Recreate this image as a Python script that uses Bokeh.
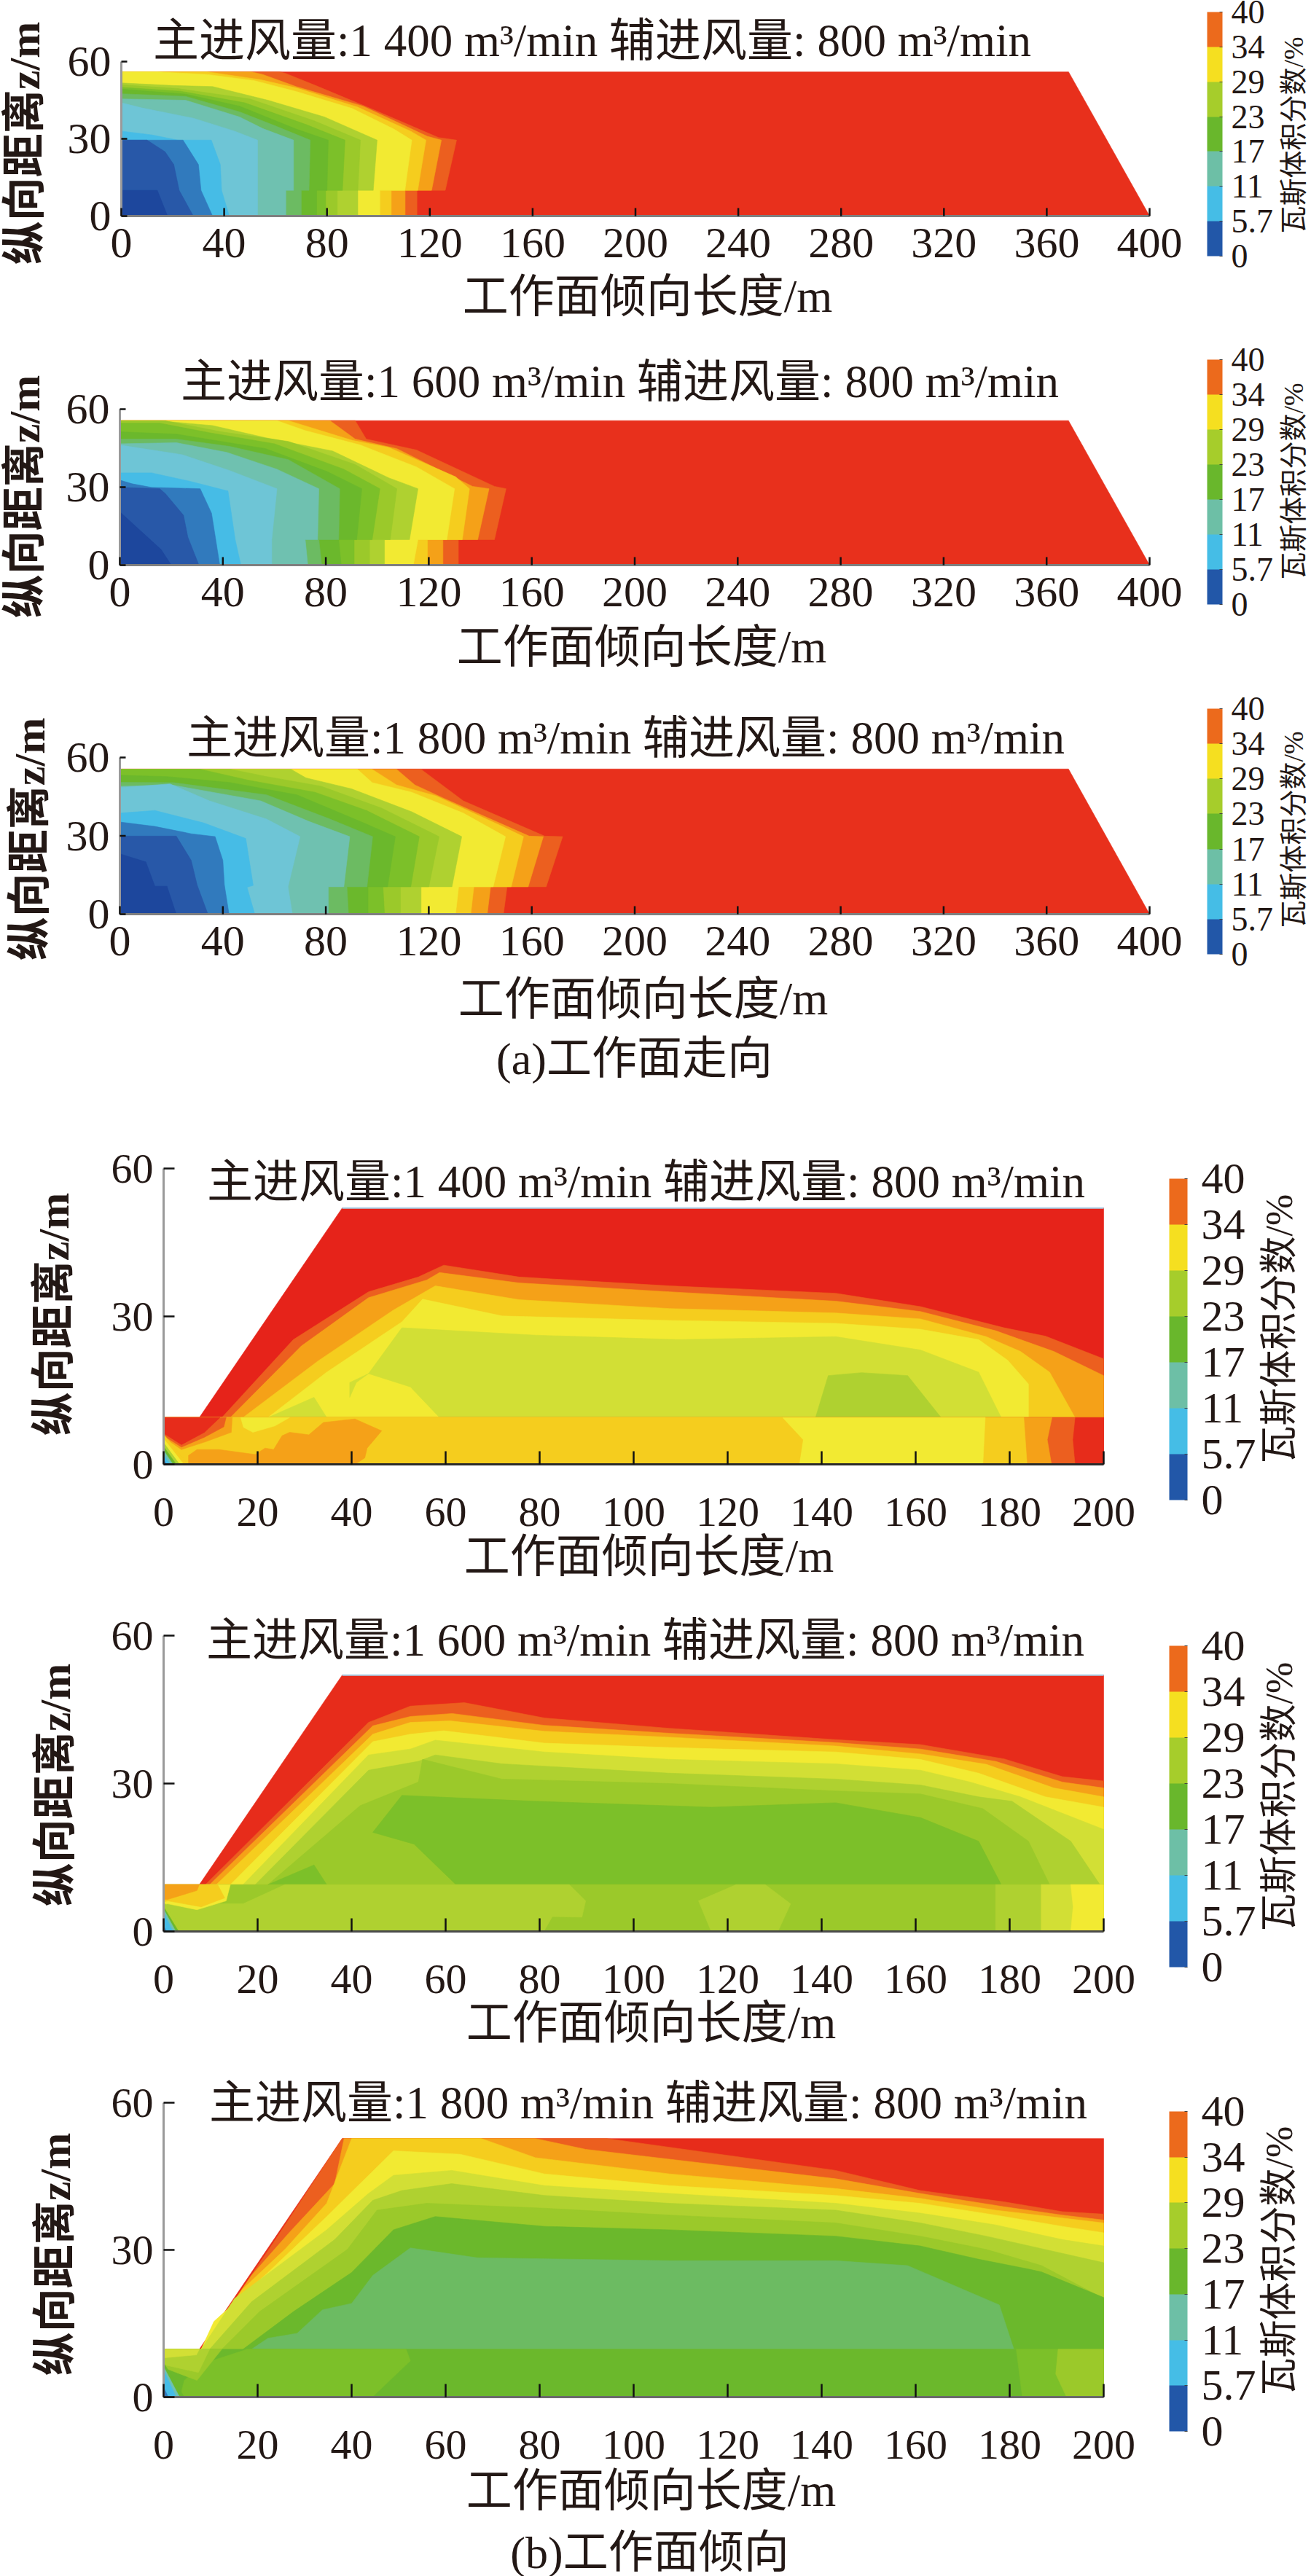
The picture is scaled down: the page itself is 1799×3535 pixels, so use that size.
import math
from bokeh.plotting import figure
from bokeh.layouts import column
from bokeh.models import ColumnDataSource, Label, ColorBar, LinearColorMapper, FixedTicker, Range1d
from bokeh.embed import file_html
from bokeh.resources import INLINE

# ---- colour levels
LEVEL = {0:'#1d479d',1:'#2858a8',2:'#317abd',3:'#46bce6',4:'#6ec5d6',5:'#6fc1b0',6:'#6cbb62',
         7:'#6bb82c',8:'#7cc029',9:'#9bc92a',10:'#afd130',11:'#d2df35',12:'#f2ea32',13:'#f5cd1e',
         14:'#f5a118',15:'#ec5f1f',16:'#e72c1b'}
BAR_COLORS = ['#2257a8','#45bde6','#6dbfa6','#69b72c','#a6cd2b','#f5df20','#ec6a1c']
BAR_LABELS = ['0','5.7','11','17','23','29','34','40']
XT_A = [0,40,80,120,160,200,240,280,320,360,400]
XT_B = [0,20,40,60,80,100,120,140,160,180,200]
YT = [0,30,60]

DOMAIN_A_X = [0,400,368.5,0]
DOMAIN_A_Y = [0,0,56,56]
DOMAIN_A2_Y = [0,0,55.6,55.6]
DOMAIN_B_X = [0,200,200,38,7.6,0]
DOMAIN_B_Y = [0,0,52,52,9.5,9.5]
DOMAIN_B6_Y = [0,0,52.7,52.7,9.75,9.75]

# ---- strike panels: boundary of "value below level", from the floor up to x=0
A1 = [
 (15,[115,115,126,130.4,123.4,97,75.6,63.7,61.6,0],[0,10,10,29.5,30.5,41.8,50.7,55.5,56,56]),
 (14,[110.4,110.4,120.7,124.5,119,94,68,55,50.7,0],[0,10,10,29.5,31,42.7,50.3,55,56,56]),
 (13,[105,105,115.3,118.5,112.5,92,68,54,33.5,0],[0,10,10,29.5,33,42.3,49.8,53,56,56]),
 (12,[100.6,100.6,110.3,113,106,89.8,68,51.8,33.4,14,0],[0,10,10,29.5,33.8,41.8,48.4,52.6,55,56,56]),
 (10,[92,92,98,99.5,79,57,35.5,20,0],[0,10,10,29.5,38.5,45,50.3,50.7,51.7]),
 (9,[84,84,92,93,75,50,22,0],[0,10,10,29.5,37,45.5,49.5,51]),
 (8,[79.5,79.5,86,87,72,48,23,0],[0,10,10,29.5,35.5,44,48.5,50]),
 (7,[76,76,80,80.5,68,46,24.7,0],[0,10,10,29.5,33.8,42.7,47.4,49.3]),
 (6,[70,70,73,73.5,60,46,25,0],[0,10,10,29.5,35,40.5,46.5,47.5]),
 (5,[64,64,67,67,55,46,25,0],[0,10,10,29.5,34,38.5,45,45.5]),
 (4,[53,53,53,53,44,28,8,0],[0,10,20,29.5,33,38,42,44]),
 (3,[42,39,38.5,35,22,12,0],[0,10,20,29.5,29.5,31.5,33]),
 (2,[35.5,31,30,24,0],[0,10,20,29.5,29.5]),
 (1,[28,22.5,20.4,17,10,0],[0,10,20,25,29.5,29.5]),
 (0,[18,14,0],[0,10,10]),
]
A2 = [
 (15,[131.5,131.5,145.5,150,145.5,115.2,95.7,91.4,0],[0,9.8,9.8,29.4,30.3,44.3,48.5,55.6,55.6]),
 (14,[125.5,125.5,139,143.4,137,107.6,91.4,81.6,0],[0,9.8,9.8,29.4,30.3,44.8,48.5,55.6,55.6]),
 (13,[119.5,119.5,133,135.8,130.4,104.4,90.3,65.4,0],[0,9.8,9.8,29.4,34,45.3,48,55.6,55.6]),
 (12,[114,115.8,127,130,115.2,93.5,71.9,61,0],[0,9.8,9.8,29.4,37.8,46.2,51.8,55.6,55.6]),
 (10,[102.8,102.8,112.5,115.8,104.4,82.7,56.7,36,15.5,0],[0,9.8,9.8,29.4,33.6,43.9,49,53.7,55.5,55.5]),
 (9,[97,97,105,107.6,91.4,65.4,39.4,17.7,0],[0,9.8,9.8,29.4,38.7,47.6,51.3,55.5,55.5]),
 (8,[91,91,98,101,87,60,35,15.5,0],[0,9.8,9.8,29.4,36.9,46.7,50.9,54.6,54.6]),
 (7,[86,85,92,94,80.5,56.7,22,0],[0,9.8,9.8,29.4,36,44.8,50.4,51.3]),
 (6,[78.4,77.3,85,85.4,65.4,42.6,22,0],[0,9.8,9.8,29.4,40.6,45.7,48.5,48.5]),
 (5,[73,72,76.8,77.3,61,41.5,22,0],[0,9.8,9.8,29.4,36.9,43.4,47.1,46.7]),
 (4,[59,59,61,42.6,24.2,0],[0,9.8,29.4,36.4,42.5,46.2]),
 (3,[47,44.8,42,27.5,12.3,0],[0,9.8,28.5,32.2,35.5,35.5]),
 (2,[38.8,35.6,31.2,12.3,4.7,0],[0,20,29.4,29.9,31.3,32.7]),
 (1,[30.7,26.4,24.7,17.7,15.5,0],[0,10.8,19.2,27.5,29.4,29.9]),
 (0,[20,16,10.7,0],[0,6,10.8,20.5]),
]
A3 = [
 (15,[149,150.4,165.6,172,165,133.4,117,0],[0,10.5,10.5,29.7,29.9,43.4,55.5,55.5]),
 (14,[142.7,144,158.6,164.5,159,126,114.6,107.5,0],[0,10.5,10.5,29.7,29.9,44.3,49.5,55.5,55.5]),
 (13,[136.3,137.5,152,156.8,148.6,122.8,107.5,98,0],[0,10.5,10.5,29.7,33.6,45.3,49.5,55.5,55.5]),
 (12,[130.4,131.6,145,149.8,133.4,113.4,98,92.3,0],[0,10.5,10.5,29.7,38.7,46.7,50.4,55.5,55.5]),
 (10,[117,117,129,132.8,113.4,90,72.3,66.5,0],[0,10.5,10.5,29.7,39.2,48,52.2,55.5,55.5]),
 (9,[109,109,120,124,101.7,78.2,57,43,0],[0,10.5,10.5,29.7,40.6,49,52.7,55.5,55.5]),
 (8,[102.8,102.2,113,116.3,95.8,75.8,50,31.3,0],[0,10.5,10.5,29.7,39.7,46.7,51.3,55.5,55.5]),
 (7,[96.4,96.4,104,107,94.6,68.8,43,18.3,0],[0,10.5,10.5,29.7,35,45.7,50.4,52.7,53.2]),
 (6,[88.8,88.2,96,98.2,81.7,57,20.7,0],[0,10.5,10.5,29.7,36.4,45.7,50.4,50.5]),
 (5,[81,81,87,89.3,73.5,54.7,20.7,0],[0,10.5,10.5,29.7,35.5,43.4,49.4,49]),
 (4,[67,65.3,70,57,34.8,19.5,0],[0,10.5,29.7,36.4,43.4,49.9,48.5]),
 (3,[52.4,49.4,51.8,48.9,32.4,13.6,0],[0,10.3,11,29,35,39.7,38.7]),
 (2,[42.4,40.6,40,37,27.7,13.6,0],[0,11.2,20.6,29.7,30.8,33.6,35.3]),
 (1,[34.2,30,27.7,21.9,0],[0,11.2,20.6,29.9,29.9]),
 (0,[21.9,18.3,13.6,10.1,0.7,0],[0,10.7,10.7,20,22.9,23]),
]
# ---- dip panels: closed regions, painted in order over a red body
B4 = [
 (15,[12.4,27.6,43.6,54.2,59.6,75.6,107.6,143,161,178.8,187.6,200,200],[9.5,25.3,35,38,40.4,38,36.2,34.7,32,27.7,26,21.4,9.5]),
 (14,[14.2,29.3,43.6,56,58.7,75.6,107.6,143,161,177,189.4,200,200],[9.5,24,33.8,37.4,38.9,36.8,35,33.1,31,27.1,22.9,18,9.5]),
 (13,[16.9,32.9,48.9,57.8,75.6,107.6,143,161,175,182.3,188.5,193.9],[9.5,21,31.3,36.2,33.4,31.6,30.7,29.5,25.9,22.9,18.7,9.5]),
 (12,[22.2,34.7,50.7,55.1,72,107.6,143,161,173.4,179.6,184,184],[9.5,18.7,28.9,33.5,30.1,29.2,28.6,27.4,25.3,21.1,16.3,9.5]),
 (11,[58.7,52.5,43.6,50.7,79.1,109.4,143,161,173.4,178.2],[9.5,15.7,18.4,27.7,26.2,25.3,25.9,23.2,18.7,9.5]),
 (11,[22.2,32,34.7],[9.5,13.6,9.5]),
 (11,[39.6,39.6,43.6,41],[13.6,16.6,18.4,16.6]),
 (10,[138.7,141.4,148.5,158.3,165.4],[9.5,18,18.6,18,9.5]),
 (16,[0,200,200,0],[0,0,9.5,9.5]),
 (15,[0,193.9,193.4,193.9,0],[0,0,5,9.5,9.5]),
 (14,[0,188.9,188,189,0],[0,0,5,9.5,9.5]),
 (13,[0,183.7,183,0],[0,0,9.5,9.5]),
 (12,[0,174.3,174.8,0],[0,0,9.5,9.5]),
 (13,[0,135.2,136,131.6,0],[0,0,5,9.5,9.5]),
 (14,[5.3,5.3,7.1,11.8,19.5,21.6,23.4,25.2,26.8,30.9,34,40.7,46.4,43.3,42.8,40.7],[0,1.8,3,3,2,3.3,3,5.8,6.5,6,8.5,9.2,6.8,3.3,1.3,0]),
 (12,[16.4,17,19,23.7,26.8],[9.5,7.5,6.5,7.8,9.5]),
 (14,[0,14.6,14.4,9,3.8,0],[9.5,9.5,6.5,4.6,3,5.5]),
 (15,[0,13.3,12.8,8.7,3.8,0],[9.5,9.5,7.6,5.5,3.5,5.8]),
 (16,[0,12,8.7,3.8,0],[9.5,9.5,6.5,4,6.3]),
 (13,[0,5.2,0],[0,0,6.1]),
 (12,[0,4.3,0],[0,0,5.2]),
 (10,[0,3.4,0],[0,0,4.4]),
 (7,[0,2.7,0],[0,0,3.6]),
 (5,[0,2,0],[0,0,2.8]),
 (3,[0,1.4,0],[0,0,2]),
 (2,[0,0.6,0],[0,0,1]),
]
B5 = [
 (15,[8.9,43.6,52.5,64,81,107.6,143,161,178.8,191.2,200,200],[9.5,42.4,45.7,46.4,43.3,41.2,38.9,37.9,35,31.4,30.5,9.5]),
 (14,[9.8,44.5,52.5,61.4,81,107.6,143,161,177,191.2,200,200],[9.5,41.7,43.6,44.2,41.8,40.2,38.3,37,34.5,30.3,29.1,9.5]),
 (13,[11.2,44.5,52.5,61,81,107.6,143,161,175,189.4,200,200],[9.5,40,42.4,42.7,40.6,39.4,37.6,36,33.9,29.1,27.3,9.5]),
 (12,[14.2,44.5,52.5,59.6,81,107.6,143,161,173.4,187.6,200,200],[9.5,38.5,40,40.7,38.2,37.3,36.4,34.9,32.1,27.3,25.2,9.5]),
 (11,[16.9,43.6,52.5,57.8,81,107.6,143,161,171.6,182.3,200,200],[9.5,35.8,37,38.8,36.4,34.9,34,32.7,30.3,27.3,20.7,9.5]),
 (10,[19.5,43.6,54.2,57.8,72,107.6,143,161,173.4,180.5,193,199.2],[9.5,32.7,34.5,35.8,34,32.1,30.9,29.7,27.3,26.4,18.3,9.5]),
 (9,[22.2,41.8,54.2,55.1,72,107.6,143,161,174.3,184,188.5],[9.5,25.5,30.3,34.9,30.9,30,28.5,27.9,24.9,18.3,9.5]),
 (8,[62.2,53.3,44.5,50.7,79.1,116.5,143,161,173.4,178.2],[9.5,17.7,20.1,27.6,26.4,25.2,26.1,23.1,18.3,9.5]),
 (8,[22.2,32,34.7],[9.5,13.5,9.5]),
 (9,[0,200,200,0],[0,0,9.5,9.5]),
 (10,[0,80.9,82.7,89,89.8,86.3,25.8,16.9,0],[0,0,3,2.9,6.2,9.5,9.5,5.6,5.6]),
 (10,[121.8,113.8,116.5,130.7,133.4,128],[9.5,6.2,0,0,5.6,9.5]),
 (10,[177,177,200,200],[0,9.5,9.5,0]),
 (11,[186.7,186.7,200,200],[0,9.5,9.5,0]),
 (12,[193,193.5,193,200,200],[0,5,9.5,9.5,0]),
 (12,[0,14.2,13.3,7.1,0.9,0],[9.5,9.5,6.2,4.4,5.6,5.5]),
 (13,[0,11.5,13,8,0.9,0],[9.5,9.5,6.8,5,6.2,6]),
 (14,[0,7.6,7.1,0.9,0],[9.5,9.5,8.3,6.5,6.5]),
 (10,[0,4.4,0],[0,0,6]),
 (7,[0,3.2,0],[0,0,5]),
 (5,[0,2.6,0],[0,0,4.5]),
 (3,[0,2,0],[0,0,3.8]),
 (2,[0,0.6,0],[0,0,1.2]),
]
B6 = [
 (15,[23.1,38,94.3,143,161,178.8,191.2,200,200,8],[31.1,52.7,52.7,46.2,42.1,39.8,37.8,37.3,9.75,9.75]),
 (14,[18.7,26.7,36.4,38.4,79.1,89.8,143,161,178.8,191.2,200,200,8],[24.8,33.5,43.5,52.7,52.7,50.5,44.5,41.5,38.8,37.1,36.1,9.75,9.75]),
 (13,[16.9,25.8,34.7,40,67.6,79.1,107.6,143,161,177,191.2,200,200,8],[22.1,30.1,39.5,52.7,52.7,48.8,45.5,42.5,40.5,38.1,36.5,35.5,9.75,9.75]),
 (12,[10.7,22.2,34.7,41.8,48.9,63.1,81,107.6,143,161,177,191.2,200,200,8],[15.4,25.4,36.8,43.5,50.2,49.5,45.5,43.1,41.1,39.5,37.1,34.8,33.5,9.75,9.75]),
 (11,[8,15.1,34.7,43.6,48.9,61.3,81,107.6,143,161,177,191.2,200,200],[9.75,20.1,34.1,41.5,45.2,46.2,43.1,41.5,39.5,37.5,35.1,32.1,30.8,9.75]),
 (10,[9.8,18.7,36.4,44.5,50.7,61.3,81,107.6,143,161,175,200,200],[9.75,19.4,32.1,40.1,42.1,43.5,41.1,39.5,38.1,35.5,32.8,27.4,9.75]),
 (9,[12.4,20.4,39.1,45.4,56,81,107.6,143,161,175,186.8,200,200],[9.75,17.4,30.1,38.1,39.5,38.5,37.1,35.5,32.8,30.1,26.8,20.1,9.75]),
 (7,[16.9,27.6,40,48.9,57.8,81,107.6,143,161,173.4,184,186.8,200,200],[9.75,17.4,25.4,34.1,36.8,34.8,34.1,32.8,30.8,28.1,26.1,25.5,20.3,9.75]),
 (6,[18.7,22.2,28.4,33.8,40,44.5,52.5,66.7,107.6,143,158.3,177.8,180.9],[9.75,12,13,17.8,19.1,24.8,30.4,28.4,27.8,27.8,26.8,18.8,9.75]),
 (7,[0,200,200,0],[0,0,9.75,9.75]),
 (8,[3.5,44.4,52.5,51.6,17.8,8,4.4],[0,0,7.4,9.75,9.75,6.7,3.4]),
 (8,[181.4,182.7,200,200],[9.75,0,0,9.75]),
 (9,[190.3,189.8,192.1,200,200],[9.75,4.7,0,0,9.75]),
 (9,[0,12.4,7.1,0],[9.75,9.75,3.4,6]),
 (10,[0,9.8,7.4,0],[9.75,9.75,5,6.6]),
 (11,[0,7.6,7,0],[9.75,9.75,8.6,8]),
 (7,[0,4.4,0],[0,0,7]),
 (5,[0,3.4,0],[0,0,6.2]),
 (3,[0,2.7,0],[0,0,5.5]),
 (2,[0,1,0],[0,0,2]),
]

TITLE_A = ['主进风量:1 400 m³/min 辅进风量: 800 m³/min','主进风量:1 600 m³/min 辅进风量: 800 m³/min','主进风量:1 800 m³/min 辅进风量: 800 m³/min']
XLAB = '工作面倾向长度/m'
YLAB = '纵向距离z/m'
CBLAB = '瓦斯体积分数/%'
CAPTION_A = '(a)工作面走向'
CAPTION_B = '(b)工作面倾向'

FONT = "'Liberation Serif', 'Noto Sans CJK SC'"
INK = '#231815'
LEFT, W = 0, 1799

# page geometry of each panel
PANELS = [
 dict(top=0,bot=465,x0=166,x1=1577,y60=84,y0=296,xt=XT_A,xmax=400,dx=DOMAIN_A_X,dy=DOMAIN_A_Y,bands=A1,red='#e8301c',closed=False,
      title=(TITLE_A[0],812,55),xl=(888,406),yl=(33,196),bar=(1656,1677,16,351,46,12),cbt=(1774,185,38),fs=60,tick=(11,8),ax='#7f7f7f',so=17),
 dict(top=465,bot=945,x0=164,x1=1577,y60=561,y0=775,xt=XT_A,xmax=400,dx=DOMAIN_A_X,dy=DOMAIN_A2_Y,bands=A2,red='#e8301c',closed=False,
      title=(TITLE_A[1],850,523),xl=(880,887),yl=(33,681),bar=(1656,1677,493,829,46,12),cbt=(1774,660,38),fs=60,tick=(11,8),ax='#7f7f7f',so=17),
 dict(top=945,bot=1545,x0=164,x1=1577,y60=1039,y0=1254,xt=XT_A,xmax=400,dx=DOMAIN_A_X,dy=DOMAIN_A2_Y,bands=A3,red='#e8301c',closed=False,
      title=(TITLE_A[2],858,1012),xl=(882,1370),yl=(40,1151),bar=(1656,1677,972,1309,46,12),cbt=(1774,1138,38),fs=60,tick=(11,8),ax='#7f7f7f',so=17,cap=(CAPTION_A,870,1452)),
 dict(top=1545,bot=2185,x0=224,x1=1514,y60=1603,y0=2009,xt=XT_B,xmax=200,dx=DOMAIN_B_X,dy=DOMAIN_B_Y,bands=B4,red='#e6231a',closed=True,
      title=(TITLE_A[0],886,1621),xl=(890,2135),yl=(73,1803),bar=(1604,1629,1617,2058,60,19),cbt=(1755,1823,52),fs=58,tick=(18,15),ax='#2a2a2a',so=46,edge=True),
 dict(top=2185,bot=2810,x0=224,x1=1514,y60=2244,y0=2650,xt=XT_B,xmax=200,dx=DOMAIN_B_X,dy=DOMAIN_B_Y,bands=B5,red='#e72c1b',closed=True,
      title=(TITLE_A[1],885,2250),xl=(893,2775),yl=(75,2449),bar=(1604,1629,2258,2699,60,19),cbt=(1755,2465,52),fs=58,tick=(18,15),ax='#4a4a4a',so=46,edge=True),
 dict(top=2810,bot=3535,x0=224,x1=1514,y60=2885,y0=3289,xt=XT_B,xmax=200,dx=DOMAIN_B_X,dy=DOMAIN_B6_Y,bands=B6,red='#e72c1b',closed=True,
      title=(TITLE_A[2],889,2885),xl=(893,3417),yl=(75,3093),bar=(1604,1629,2897,3336,60,19),cbt=(1755,3102,52),fs=58,tick=(18,15),ax='#6a6a6a',so=46,cap=(CAPTION_B,891,3502)),
]

def make_panel(g):
    sx = g['xmax']/(g['x1']-g['x0'])
    sy = 60/(g['y0']-g['y60'])
    # the frame fills the whole slice of the page; axes sit at data x=0 / y=0
    p = figure(width=W, height=g['bot']-g['top'], output_backend="svg", toolbar_location=None,
               x_range=Range1d(-(g['x0']-LEFT)*sx, g['xmax']+(LEFT+W-g['x1'])*sx),
               y_range=Range1d(-(g['bot']-g['y0'])*sy, 60+(g['y60']-g['top'])*sy),
               min_border=0, outline_line_color=None)
    p.frame_align = False
    p.grid.visible = False
    p.background_fill_color = 'white'
    p.border_fill_color = 'white'

    if g['closed']:
        bx = [b[1] for b in g['bands']]; by = [b[2] for b in g['bands']]
    else:
        bx = [[0]+b[1] for b in g['bands']]; by = [[0]+b[2] for b in g['bands']]
    xs = [list(g['dx'])] + bx
    ys = [list(g['dy'])] + by
    cols = [g['red']] + [LEVEL[b[0]] for b in g['bands']]
    src = ColumnDataSource(dict(xs=xs, ys=ys, c=cols))
    p.patches('xs','ys',source=src,fill_color='c',line_color='c',line_width=0.6)
    if g.get('edge'):
        p.line(g['dx'][2:4], g['dy'][2:4], line_color='#a8cfe6', line_width=2)

    for ax,t,b in ((p.xaxis[0],g['xt'],(0,g['xmax'])),(p.yaxis[0],YT,(0,60))):
        ax.ticker = FixedTicker(ticks=t)
        ax.fixed_location = 0
        ax.bounds = b
        ax.axis_line_color = g['ax']
        ax.axis_line_width = 3
        ax.major_tick_line_color = None
        ax.major_tick_out = 0
        ax.major_tick_in = 0
        ax.minor_tick_line_color = None
        ax.major_label_text_font = 'Liberation Serif'
        ax.major_label_text_font_size = f"{g['fs']}px"
        ax.major_label_text_color = INK
    p.xaxis[0].major_label_standoff = g['so']
    p.yaxis[0].major_label_standoff = 14
    p.yaxis[0].axis_line_color = '#9a9a9a'
    # inward tick marks, on top of the filled bands
    tx_len, ty_len = g['tick']
    p.segment(g['xt'], [0]*len(g['xt']), g['xt'], [tx_len*sy]*len(g['xt']), line_color='#111111', line_width=2.5, level='overlay')
    p.segment([0]*len(YT), YT, [ty_len*sx]*len(YT), YT, line_color='#111111', line_width=2.5, level='overlay')

    def put(text, px, py, size, angle=0, style='normal'):
        p.add_layout(Label(x=px-LEFT, y=g['bot']-py, x_units='screen', y_units='screen', text=text,
                           text_font=FONT, text_font_size=f'{size}px', text_color=INK, text_align='center',
                           text_baseline='middle', angle=angle, text_font_style=style))
    t,tx,ty = g['title']; put(t,tx,ty,63)
    put(XLAB,g['xl'][0],g['xl'][1],63)
    put(YLAB,g['yl'][0],g['yl'][1],60,angle=math.pi/2,style='bold')
    if 'cap' in g:
        c,cx,cy = g['cap']; put(c,cx,cy,62)
    put(CBLAB,g['cbt'][0],g['cbt'][1],g['cbt'][2],angle=math.pi/2)

    bx0,bx1,by0,by1,bfs,bso = g['bar']
    mapper = LinearColorMapper(palette=BAR_COLORS, low=0, high=7)
    cb = ColorBar(color_mapper=mapper, ticker=FixedTicker(ticks=list(range(8))),
                  major_label_overrides={i:s for i,s in enumerate(BAR_LABELS)},
                  width=bx1-bx0, height=by1-by0, padding=0, margin=0, border_line_color=None, bar_line_color=None,
                  major_tick_line_color='#444444', major_tick_in=4, major_tick_out=0, minor_tick_line_color=None,
                  major_label_text_font='Liberation Serif', major_label_text_font_size=f'{bfs}px',
                  major_label_text_color=INK, label_standoff=bso,
                  location=(bx0-LEFT, g['bot']-by1))
    p.add_layout(cb)
    return p

page = column(*[make_panel(g) for g in PANELS], spacing=0)
open("out.html","w").write(file_html(page, INLINE))
